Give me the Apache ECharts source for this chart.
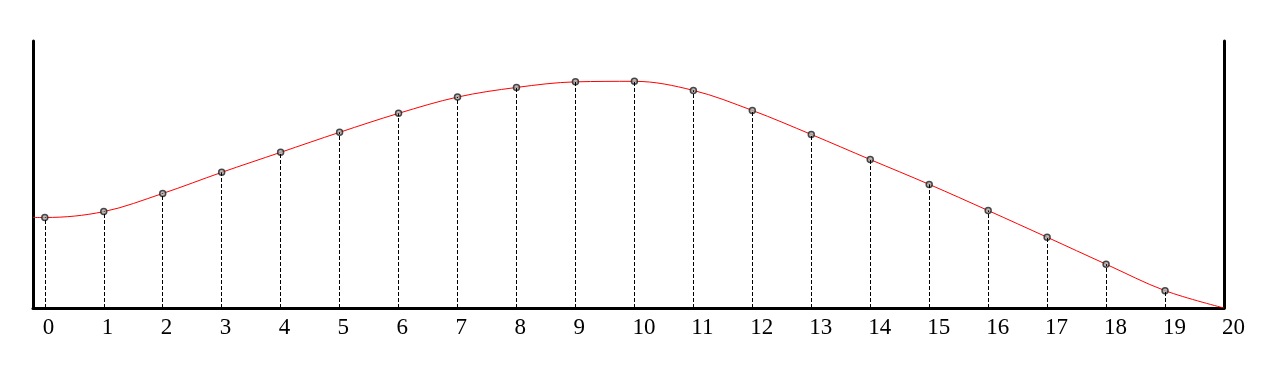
<!DOCTYPE html>
<html><head><meta charset="utf-8">
<script src="https://cdn.jsdelivr.net/npm/echarts@6/dist/echarts.min.js"></script>
<style>html,body{margin:0;padding:0;background:#fff}#c{width:1266px;height:374px}</style>
</head><body><div id="c"></div>
<script>
// x positions of the sample points
const xs = [0,1,2,3,4,5,6,7,8,9,10,11,12,13,14,15,16,17,18,19,20];
// sampled values (y axis 0..100)
const values = [33.9,36.1,42.9,50.8,58.3,65.8,72.9,79.0,82.6,84.7,84.9,81.5,74.0,65.0,55.6,46.3,36.5,26.5,16.4,6.5,0];
// curve starts at the left axis edge with the same value as x=0
const curveStart = [-0.2, 33.9];
const tickLabels = ['0','1','2','3','4','5','6','7','8','9','10','11','12','13','14','15','16','17','18','19','20'];

const linePts = [curveStart].concat(xs.map((x,i)=>[x,values[i]]));
const dotPts = xs.slice(0,20).map((x,i)=>[x,values[i]]);
const drops = dotPts.map(p=>[{coord:[p[0],0]},{coord:[p[0],p[1]]}]);

const chart = echarts.init(document.getElementById('c'));
const axisLine = {show:true, onZero:false, lineStyle:{color:'#000', width:3}};
chart.setOption({
  animation:false,
  grid:{left:33, right:42, top:41, bottom:66, containLabel:false},
  xAxis:{type:'value', min:-0.2, max:20,
    axisLine:axisLine, axisTick:{show:false}, splitLine:{show:false},
    axisLabel:{customValues:xs, margin:8, align:'left', color:'#000', fontFamily:'Liberation Serif', fontSize:23,
      padding:[0,0,0,-2],
      formatter:function(v){ return tickLabels[Math.round(v)]; }}
  },
  yAxis:[
    {type:'value', min:0, max:100, position:'left', axisLine:axisLine, axisTick:{show:false}, axisLabel:{show:false}, splitLine:{show:false}},
    {type:'value', min:0, max:100, position:'right', axisLine:axisLine, axisTick:{show:false}, axisLabel:{show:false}, splitLine:{show:false}}
  ],
  series:[
    {type:'line', data:linePts, smooth:0.35, symbol:'none', lineStyle:{color:'#ff0000', width:1}, z:3},
    {type:'scatter', data:dotPts, symbol:'circle', symbolSize:6,
      itemStyle:{color:'#aaa', borderColor:'#222', borderWidth:1.5}, z:4,
      markLine:{silent:true, symbol:'none', label:{show:false},
        lineStyle:{color:'#000', width:1, type:[4,2]}, data:drops}}
  ]
});
</script></body></html>
